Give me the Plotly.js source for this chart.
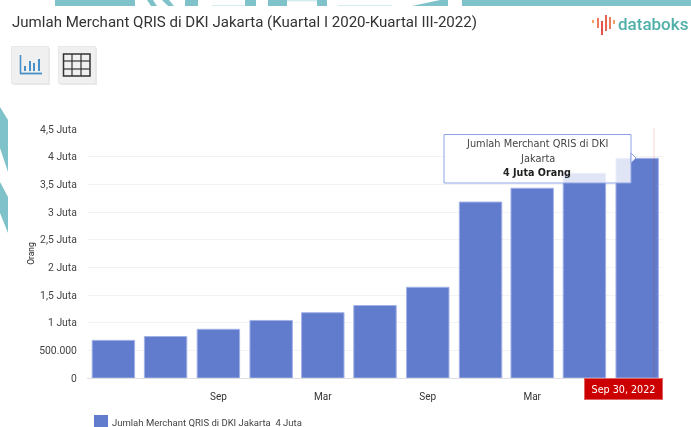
<!DOCTYPE html>
<html><head><meta charset="utf-8">
<script src="https://cdn.plot.ly/plotly-3.0.1.min.js"></script>
<style>html,body{margin:0;padding:0;background:#fff;overflow:hidden}#c{width:691px;height:427px;filter:blur(0.35px)}</style>
</head><body><div id="c"></div>
<script>
const chartTitle = 'Jumlah Merchant QRIS di DKI Jakarta (Kuartal I 2020-Kuartal III-2022)';
const seriesName = 'Jumlah Merchant QRIS di DKI Jakarta';
const quarters = ['2020-03-31','2020-06-30','2020-09-30','2020-12-31','2021-03-31','2021-06-30','2021-09-30','2021-12-31','2022-03-31','2022-06-30','2022-09-30'];
const merchants = [680000,750000,880000,1040000,1180000,1310000,1640000,3180000,3430000,3700000,3970000];
const yTicks = [0,500000,1000000,1500000,2000000,2500000,3000000,3500000,4000000,4500000];
const yLabels = ['0','500.000','1 Juta','1,5 Juta','2 Juta','2,5 Juta','3 Juta','3,5 Juta','4 Juta','4,5 Juta'];
const xTicks = ['2020-09-30','2021-03-31','2021-09-30','2022-03-31'];
const xLabels = ['Sep','Mar','Sep','Mar'];

const L=87,R=663,T=129,B=378;
const X=p=>(p-L)/(R-L), Y=p=>(B-p)/(B-T);
const teal='#7fc2c9', pale='#d4ecef';
const poly=(pts,fill,extra)=>Object.assign({type:'path',xref:'paper',yref:'paper',layer:'below',
  path:pts.map((q,i)=>(i?'L':'M')+X(q[0])+','+Y(q[1])).join(' ')+' Z',fillcolor:fill,line:{width:0}},extra||{});
const rect=(x0,y0,x1,y1,fill,line,layer)=>({type:'rect',xref:'paper',yref:'paper',layer:layer||'above',
  x0:X(x0),x1:X(x1),y0:Y(y0),y1:Y(y1),fillcolor:fill,line:line||{width:0}});
const seg=(x0,y0,x1,y1,color,w)=>({type:'line',xref:'paper',yref:'paper',layer:'above',
  x0:X(x0),x1:X(x1),y0:Y(y0),y1:Y(y1),line:{color:color,width:w}});

const shapes=[
  // background watermark: top strip
  rect(55,0,135,6,teal,null,'below'),
  poly([[147,0],[153,0],[157,6],[151,6]],teal),
  poly([[162,0],[169,0],[174,6],[168,6]],teal),
  rect(185,0,198,6,teal,null,'below'),
  rect(212,5,244,6,pale,null,'below'),
  rect(245,0,256,6,teal,null,'below'),
  rect(268,0,287,6,teal,null,'below'),
  rect(287,0,317,1.5,pale,null,'below'),
  rect(317,0,327,6,teal,null,'below'),
  rect(338,5,392,6,pale,null,'below'),
  poly([[412,6],[440,0],[448,0],[448,6]],teal),
  rect(462,0,691,6,teal,null,'below'),
  // background watermark: left strip
  poly([[0,107],[8,120],[8,172],[0,148]],teal),
  poly([[0,182],[8,197],[8,233],[0,213]],teal),
  // toolbar buttons
  rect(13,48,50,85,'#e9e9e9',null),
  rect(60,48,97,85,'#e9e9e9',null),
  rect(11.5,46.5,48.5,83.5,'#f0f0f0',{color:'#e8e8e8',width:1}),
  rect(58.5,46.5,95.5,83.5,'#f0f0f0',{color:'#e8e8e8',width:1}),
  seg(20.5,55,20.5,74,'#4a90c8',1.6),seg(20,73.5,42,73.5,'#4a90c8',1.8),
  seg(25,66,25,71,'#4a90c8',2),seg(30,61,30,71,'#4a90c8',2),seg(34,63,34,71,'#4a90c8',2),seg(39,59,39,71,'#4a90c8',2),
  rect(63.5,54,90,76,'rgba(0,0,0,0)',{color:'#333',width:1.5}),
  seg(72,54,72,76,'#333',1.2),seg(81,54,81,76,'#333',1.2),seg(64,61,90,61,'#333',1.2),seg(64,69,90,69,'#333',1.2),
  // logo
  seg(593,20,593,23,'#f2a068',2),seg(598,18,598,28,'#ee7a5c',2),seg(602,21,602,35,'#e2504a',2),
  seg(606,15,606,31,'#e86450',2),seg(610,17,610,29,'#ee7a5c',2),seg(614,20,614,24,'#f2a068',2),
  // crosshair
  seg(654,128,654,378,'rgba(204,0,0,0.16)',1),
  // tooltip
  rect(444,134.5,631,183,'rgba(255,255,255,0.8)',{color:'#8ea2e4',width:1}),
  poly([[631,153],[636,158],[631,163]],'rgba(255,255,255,0.9)',{layer:'above',line:{color:'#8ea2e4',width:1}}),
  // legend swatch
  rect(94,415,108,428,'#627ccd')
];
const ann=(x,y,text,size,color,xa,extra)=>Object.assign({xref:'paper',yref:'paper',x:X(x),y:Y(y),text:text,showarrow:false,
  xanchor:xa||'left',yanchor:'middle',font:{family:'Roboto',size:size,color:color}},extra||{});
const dv=(s,c,w)=>({font:{family:'DejaVu Sans',size:s,color:c,weight:w||400}});

const annotations=[
  ann(10,22,chartTitle,15.05,'#333'),
  ann(615.5,24,'databoks',17,'#4fb0aa','left',{font:{family:'Roboto',size:17,color:'#4fb0aa',weight:500}}),
  ann(110,422,seriesName+'&nbsp;&nbsp;4 Juta',9.5,'#444'),
  ann(537,143.5,'Jumlah Merchant QRIS di DKI',10,'#444','center',dv(9.8,'#444')),
  ann(537,158,'Jakarta',10,'#444','center',dv(9.8,'#444')),
  ann(537,172,'<b>4 Juta Orang</b>',10,'#222','center',dv(9.6,'#222')),
  ann(623,388.5,'Sep 30, 2022',10,'#fff','center',Object.assign(dv(9.6,'#fff'),{
    width:77,height:20,bgcolor:'#cc0000',bordercolor:'#e06666',borderwidth:1,borderpad:0}))
];

Plotly.newPlot('c',[{
  type:'bar',x:quarters,y:merchants,name:seriesName,width:1000*60*60*24*91.3*0.81,
  marker:{color:'#627ccd',line:{color:'#a3b2e6',width:1}},hoverinfo:'skip'
}],{
  width:691,height:427,paper_bgcolor:'#fff',plot_bgcolor:'rgba(0,0,0,0)',showlegend:false,
  margin:{l:L,r:691-R,t:T,b:427-B,pad:0},
  font:{family:'Roboto',size:10,color:'#444'},
  xaxis:{type:'date',range:['2020-02-14','2022-11-14'],tickmode:'array',tickvals:xTicks,ticktext:xLabels,showgrid:false,zeroline:false,
    showline:true,linecolor:'#e0e0e0',linewidth:1,ticks:'outside',ticklen:9,tickcolor:'rgba(0,0,0,0)',tickfont:{family:'Roboto',size:10,color:'#333'}},
  yaxis:{range:[0,4500000],tickmode:'array',tickvals:yTicks,ticktext:yLabels,gridcolor:'#f3f3f3',gridwidth:1,zeroline:false,
    ticks:'outside',ticklen:7,tickcolor:'rgba(0,0,0,0)',tickfont:{family:'Roboto',size:10.4,color:'#444'},
    title:{text:'Orang',font:{family:'Roboto',size:8.5,color:'#222'},standoff:3}},
  shapes:shapes,annotations:annotations
},{displayModeBar:false,staticPlot:true});
</script></body></html>
